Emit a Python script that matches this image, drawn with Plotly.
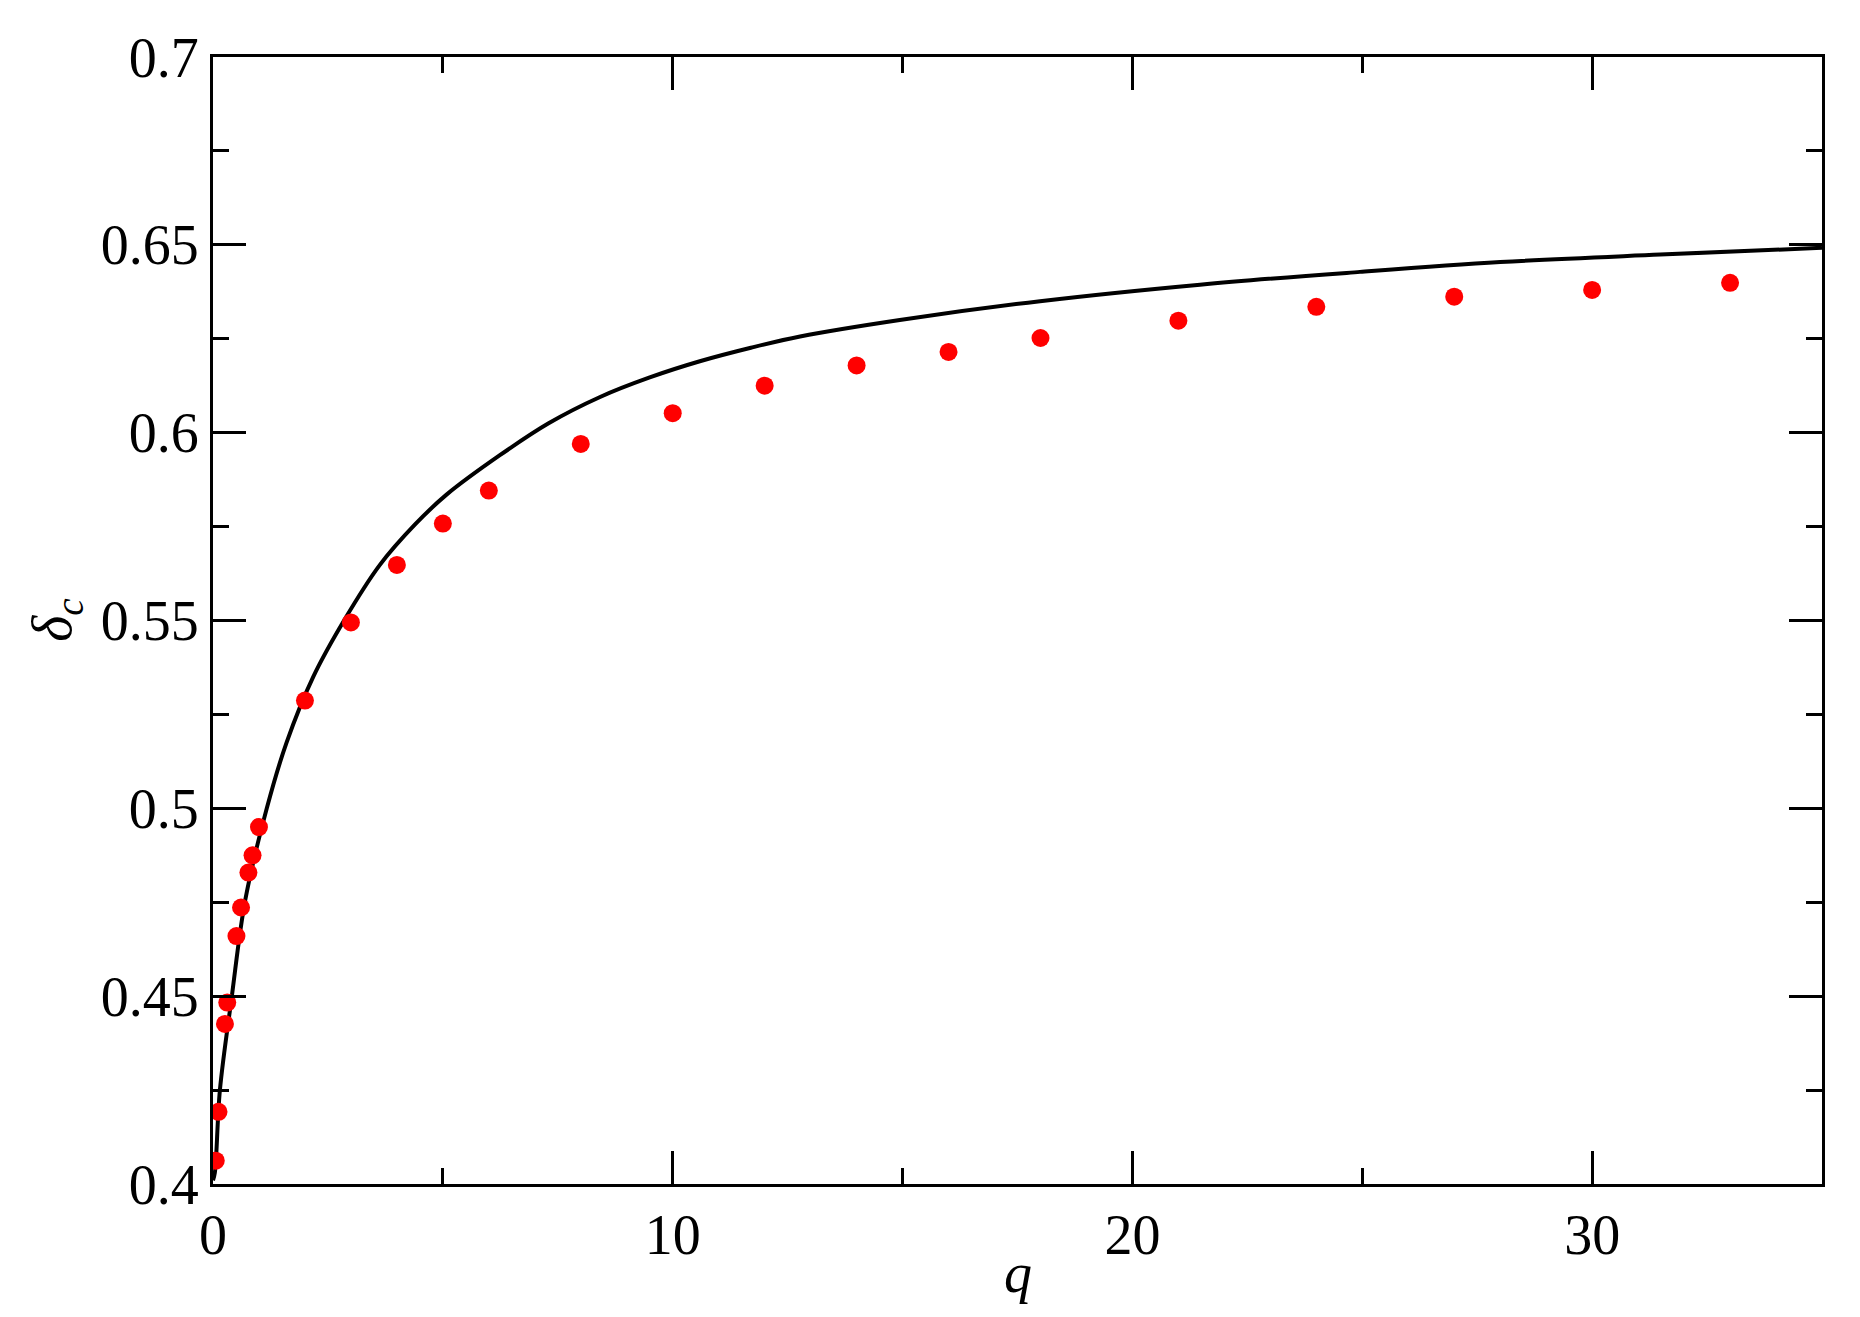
import plotly.graph_objects as go

# Simulation points (red dots)
q_pts = [0.06, 0.12, 0.26, 0.31, 0.51, 0.61, 0.77, 0.86, 1.0,
         2, 3, 4, 5, 6, 8, 10, 12, 14, 16, 18, 21, 24, 27, 30, 33]
d_pts = [0.4062, 0.4192, 0.4426, 0.4483, 0.4660, 0.4736, 0.4829, 0.4875, 0.4950,
         0.5287, 0.5495, 0.5648, 0.5758, 0.5846, 0.5970, 0.6052, 0.6125, 0.6179,
         0.6215, 0.6252, 0.6298, 0.6335, 0.6362, 0.6380, 0.6399]

# Theory curve (black line)
q_line = [0.0, 0.04, 0.15, 0.41, 0.70, 1.17, 1.6, 2.18, 2.86, 3.63, 4.39, 5.08,
          6.24, 7.3, 8.42, 9.5, 10.59, 11.7, 12.77, 14.94, 17.99, 21.47, 24.95, 28.0, 31.48, 35.0]
d_line = [0.401, 0.403, 0.425, 0.450, 0.4755, 0.500, 0.5175, 0.5350, 0.5502, 0.5648,
          0.5755, 0.5835, 0.5940, 0.6025, 0.6095, 0.6147, 0.6190, 0.6226, 0.6256,
          0.6300, 0.6350, 0.6394, 0.6428, 0.6454, 0.6474, 0.6492]

x_range = [0, 35]
y_range = [0.4, 0.7]
y_ticks = [0.4, 0.45, 0.5, 0.55, 0.6, 0.65, 0.7]
y_ticktext = ["0.4", "0.45", "0.5", "0.55", "0.6", "0.65", "0.7"]
x_ticks = [0, 10, 20, 30]
x_ticktext = ["0", "10", "20", "30"]

FONT = "Liberation Serif, Times New Roman, serif"

fig = go.Figure()
fig.add_trace(go.Scatter(x=q_line, y=d_line, mode="lines",
                         line=dict(color="black", width=4, shape="spline", smoothing=1.0),
                         showlegend=False, hoverinfo="skip"))
fig.add_trace(go.Scatter(x=q_pts, y=d_pts, mode="markers",
                         marker=dict(color="#ff0000", size=18, line=dict(width=0)),
                         showlegend=False))

axis_common = dict(
    showline=True, linecolor="black", linewidth=3, mirror="ticks",
    ticks="inside", tickcolor="black", tickwidth=2.5, ticklen=33,
    showgrid=False, zeroline=False,
    tickfont=dict(family=FONT, size=56, color="black"),
)

fig.update_xaxes(range=x_range, tickvals=x_ticks, ticktext=x_ticktext,
                 minor=dict(ticks="inside", ticklen=16, tickwidth=2.5, tickcolor="black", dtick=5, tick0=0),
                 **axis_common)
fig.update_yaxes(range=y_range, tickvals=y_ticks, ticktext=y_ticktext,
                 minor=dict(ticks="inside", ticklen=16, tickwidth=2.5, tickcolor="black", dtick=0.025, tick0=0.4),
                 **axis_common)

fig.add_annotation(text="<i>q</i>", xref="paper", yref="paper", x=0.5, y=-0.079,
                   xanchor="center", yanchor="middle", showarrow=False,
                   font=dict(family=FONT, size=56, color="black"))
fig.add_annotation(text="<i>δ</i><sub><i>c</i></sub>", xref="paper", yref="paper",
                   x=-0.098, y=0.5, xanchor="center", yanchor="middle", textangle=-90,
                   showarrow=False, font=dict(family=FONT, size=56, color="black"))

fig.update_layout(
    width=1844, height=1301,
    margin=dict(l=205, r=30, t=49, b=125),
    paper_bgcolor="white", plot_bgcolor="white",
)

fig.write_html("out.html")
